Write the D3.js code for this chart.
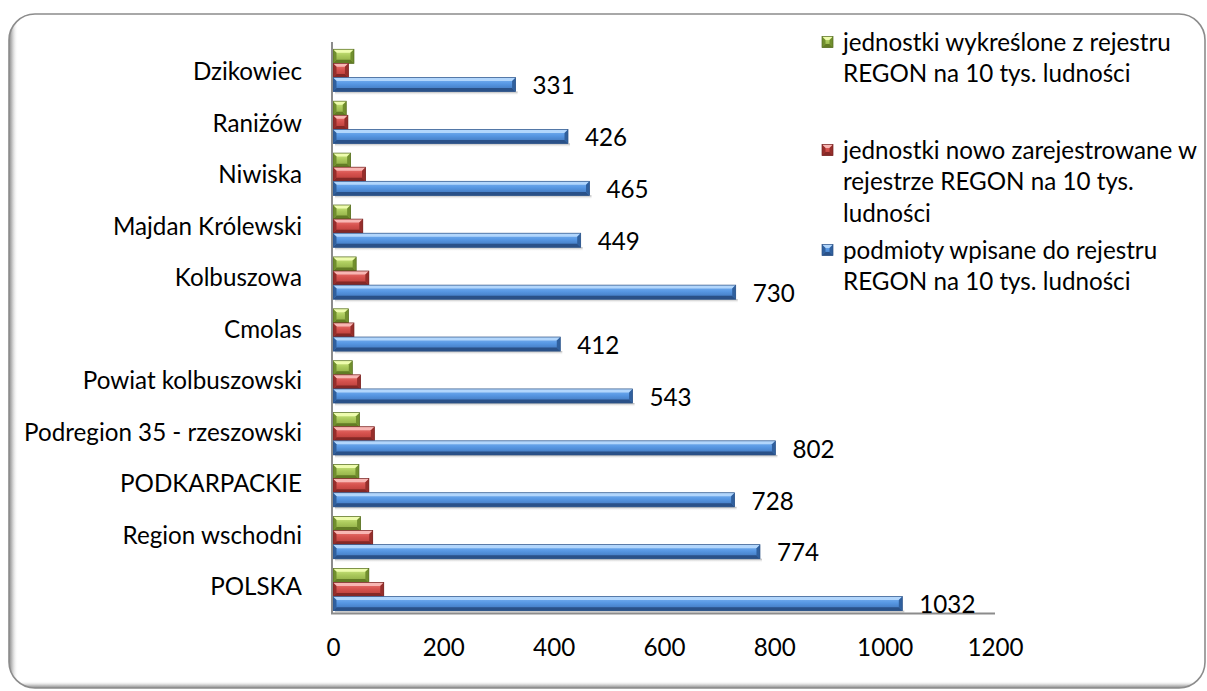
<!DOCTYPE html>
<html>
<head>
<meta charset="utf-8">
<script src="https://cdn.jsdelivr.net/npm/d3@7"></script>
<style>
  html, body { margin: 0; padding: 0; background: #fff; overflow: hidden; }
  svg { display: block; }
  text { font-family: Lato, "Open Sans", "Liberation Sans", sans-serif; fill: #000; }
</style>
</head>
<body>
<svg id="chart" width="1207" height="691"></svg>
<script>
// ---------- data ----------
const categories = ["Dzikowiec", "Raniżów", "Niwiska", "Majdan Królewski", "Kolbuszowa", "Cmolas",
  "Powiat kolbuszowski", "Podregion 35 - rzeszowski", "PODKARPACKIE", "Region wschodni", "POLSKA"];
const podmiotyWpisane = [331, 426, 465, 449, 730, 412, 543, 802, 728, 774, 1032];
const nowoZarejestrowane = [28, 27, 59, 54, 65, 38, 50, 75, 65, 72, 92];
const wykreslone = [38, 24, 32, 32, 42, 28, 35, 48, 47, 50, 65];
const xTicks = [0, 200, 400, 600, 800, 1000, 1200];
const seriesNames = [
  ["jednostki wykreślone z rejestru", "REGON na 10 tys. ludności"],
  ["jednostki nowo zarejestrowane w", "rejestrze REGON na 10 tys.", "ludności"],
  ["podmioty wpisane do rejestru", "REGON na 10 tys. ludności"]
];

// ---------- setup ----------
const svg = d3.select("#chart");
const defs = svg.append("defs");

// font size fitted to the reference width of the longest category label
const probe = svg.append("text").attr("font-size", 100).text("Podregion 35 - rzeszowski");
const FS = 100 * 278 / probe.node().getComputedTextLength();
probe.remove();

// frame
defs.append("clipPath").attr("id", "frameClip")
  .append("rect").attr("x", 9).attr("y", 14).attr("width", 1196).attr("height", 674).attr("rx", 26);
const gl = defs.append("linearGradient").attr("id", "leftShadow").attr("x1", 0).attr("x2", 1);
gl.append("stop").attr("offset", 0).attr("stop-color", "#8a8a8a");
gl.append("stop").attr("offset", 0.35).attr("stop-color", "#c4c4c4");
gl.append("stop").attr("offset", 1).attr("stop-color", "#fff").attr("stop-opacity", 0);
const gb = defs.append("linearGradient").attr("id", "bottomShadow").attr("x1", 0).attr("x2", 0).attr("y1", 1).attr("y2", 0);
gb.append("stop").attr("offset", 0).attr("stop-color", "#8a8a8a");
gb.append("stop").attr("offset", 0.4).attr("stop-color", "#c8c8c8");
gb.append("stop").attr("offset", 1).attr("stop-color", "#fff").attr("stop-opacity", 0);

svg.append("rect").attr("x", 9).attr("y", 14).attr("width", 1196).attr("height", 674).attr("rx", 26)
  .attr("fill", "#fff");
const fr = svg.append("g").attr("clip-path", "url(#frameClip)");
fr.append("rect").attr("x", 9).attr("y", 14).attr("width", 9).attr("height", 674).attr("fill", "url(#leftShadow)");
fr.append("rect").attr("x", 9).attr("y", 681).attr("width", 1196).attr("height", 7).attr("fill", "url(#bottomShadow)");
svg.append("rect").attr("x", 9).attr("y", 14).attr("width", 1196).attr("height", 674).attr("rx", 26)
  .attr("fill", "none").attr("stroke", "#8c8c8c").attr("stroke-width", 1.6);

// ---------- scales ----------
const x = d3.scaleLinear().domain([0, 1200]).range([333, 995]);
const y = d3.scaleBand().domain(categories).range([42, 613]).paddingInner(0);
const bw = y.bandwidth();
const seriesKeys = ["wykreslone", "nowo", "podmioty"];
const ys = d3.scaleBand().domain(seriesKeys).range([bw * 0.14, bw * 0.955]).paddingInner(0);
const yLabel = d3.scalePoint().domain(categories).range([71.7, 586.7]);

const palettes = {
  podmioty: { edge: "#2d5285", top: "#b2d6fc", light: "#7fb6f3", mid: "#5797e3", dark: "#3c70b4", bot: "#2a5188", side: "#30609e" },
  nowo: { edge: "#732220", top: "#f8b6b3", light: "#ec7c78", mid: "#d6524e", dark: "#b23a36", bot: "#842826", side: "#962e2b" },
  wykreslone: { edge: "#52691f", top: "#eefcae", light: "#d3ec86", mid: "#abca5c", dark: "#89a641", bot: "#627c25", side: "#718f2e" }
};
Object.entries(palettes).forEach(([k, p]) => {
  const g = defs.append("linearGradient").attr("id", "grad-" + k).attr("x1", 0).attr("x2", 0).attr("y1", 0).attr("y2", 1);
  g.append("stop").attr("offset", 0).attr("stop-color", p.light);
  g.append("stop").attr("offset", 0.45).attr("stop-color", p.mid);
  g.append("stop").attr("offset", 1).attr("stop-color", p.dark);
});
const sg = defs.append("linearGradient").attr("id", "barShadow").attr("x1", 0).attr("x2", 0).attr("y1", 0).attr("y2", 1);
sg.append("stop").attr("offset", 0).attr("stop-color", "#9a9a9a").attr("stop-opacity", 0.8);
sg.append("stop").attr("offset", 1).attr("stop-color", "#ffffff").attr("stop-opacity", 0);

function bevelBar(g, x0, x1, y0, h, key) {
  const p = palettes[key];
  const b = Math.min(3.5, (x1 - x0) / 2, h / 2);
  g.append("rect").attr("x", x0).attr("y", y0).attr("width", x1 - x0).attr("height", h)
    .attr("fill", `url(#grad-${key})`);
  g.append("polygon").attr("points", [[x0, y0], [x1, y0], [x1 - b, y0 + b], [x0 + b, y0 + b]].join(" "))
    .attr("fill", p.top);
  g.append("polygon").attr("points", [[x0, y0 + h], [x1, y0 + h], [x1 - b, y0 + h - b], [x0 + b, y0 + h - b]].join(" "))
    .attr("fill", p.bot);
  g.append("polygon").attr("points", [[x0, y0], [x0 + b, y0 + b], [x0 + b, y0 + h - b], [x0, y0 + h]].join(" "))
    .attr("fill", p.side);
  g.append("polygon").attr("points", [[x1, y0], [x1 - b, y0 + b], [x1 - b, y0 + h - b], [x1, y0 + h]].join(" "))
    .attr("fill", p.side);
  g.append("rect").attr("x", x0).attr("y", y0).attr("width", x1 - x0).attr("height", h)
    .attr("fill", "none").attr("stroke", p.edge).attr("stroke-width", 0.7);
}

// ---------- bars ----------
const rows = categories.map((c, i) => ({
  cat: c, podmioty: podmiotyWpisane[i], nowo: nowoZarejestrowane[i], wykreslone: wykreslone[i]
}));
const barsG = svg.append("g");
rows.forEach(r => {
  const by = y(r.cat);
  barsG.append("rect").attr("x", x(0) + 2).attr("y", by + ys("podmioty") + ys.bandwidth())
    .attr("width", x(r.podmioty) - x(0)).attr("height", 4).attr("fill", "url(#barShadow)");
  seriesKeys.forEach(k => {
    bevelBar(barsG, x(0), x(r[k]), by + ys(k), ys.bandwidth(), k);
  });
});

// ---------- axes ----------
svg.append("line").attr("x1", 332).attr("x2", 332).attr("y1", 42).attr("y2", 613.5)
  .attr("stroke", "#8c8c8c").attr("stroke-width", 2);
svg.append("line").attr("x1", 331).attr("x2", x(1200)).attr("y1", 613.5).attr("y2", 613.5)
  .attr("stroke", "#8c8c8c").attr("stroke-width", 2);

const xAxis = svg.append("g").attr("transform", "translate(0,613)")
  .call(d3.axisBottom(x).tickValues(xTicks).tickSize(0).tickPadding(0).tickFormat(d3.format("d")));
xAxis.select(".domain").remove();
xAxis.selectAll("text").attr("font-size", FS).attr("dy", null).attr("y", 43)
  .attr("font-family", "Lato, 'Open Sans', sans-serif").attr("fill", "#000");

// category labels
svg.append("g").selectAll("text").data(categories).join("text")
  .attr("x", 302).attr("y", d => yLabel(d)).attr("dy", "0.36em")
  .attr("text-anchor", "end").attr("font-size", FS).text(d => d);

// value labels
svg.append("g").selectAll("text").data(rows).join("text")
  .attr("x", d => x(d.podmioty) + 17)
  .attr("y", d => y(d.cat) + ys("podmioty") + ys.bandwidth() / 2 + 1)
  .attr("dy", "0.36em").attr("font-size", FS).text(d => d.podmioty);

// ---------- legend ----------
const legendKeys = ["wykreslone", "nowo", "podmioty"];
const legendY = [42, 150, 250];
const lineH = 31.5;
legendKeys.forEach((k, i) => {
  const g = svg.append("g");
  bevelBar(g, 822, 833, legendY[i] - 5.5, 11, k);
  seriesNames[i].forEach((line, j) => {
    g.append("text").attr("x", 843).attr("y", legendY[i] + j * lineH).attr("dy", "0.36em")
      .attr("font-size", FS).text(line);
  });
});
</script>
</body>
</html>
